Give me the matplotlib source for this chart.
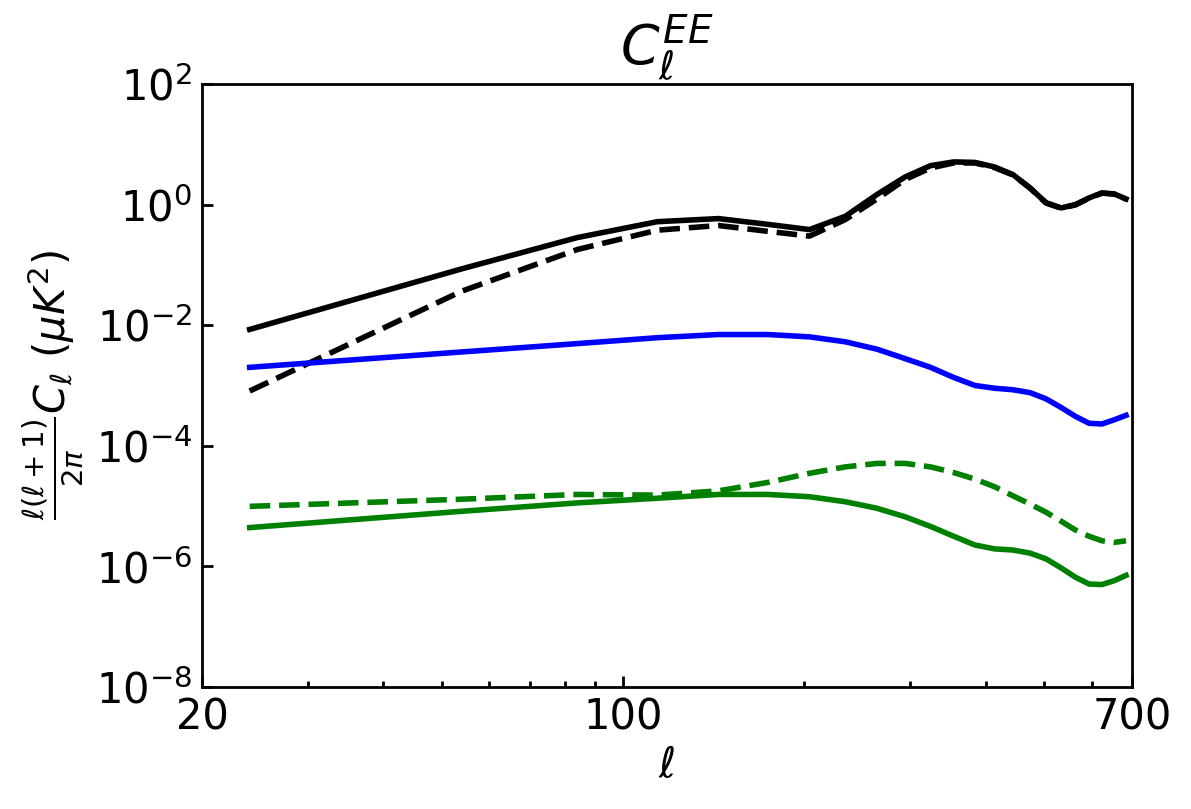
import numpy as np
import matplotlib
matplotlib.use("Agg")
import matplotlib.pyplot as plt
from matplotlib.ticker import FixedLocator, FixedFormatter, NullFormatter, NullLocator, LogLocator

# multipoles (bin centres)
ell = [24, 54, 84, 114, 144, 174, 204, 234, 264, 294, 324, 354,
       384, 414, 444, 474, 504, 534, 564, 594, 624, 654, 684]

# black: total signal, solid and dashed
cl_black = [8.5e-3, 8.6e-2, 0.284, 0.52, 0.586, 0.47, 0.385, 0.64, 1.47, 2.87, 4.42, 5.1,
            5.0, 4.2, 3.14, 1.89, 1.07, 0.88, 1.0, 1.29, 1.56, 1.5, 1.24]
cl_black_d = [8.1e-4, 3.67e-2, 0.18, 0.376, 0.45, 0.36, 0.30, 0.565, 1.24, 2.6, 4.05, 4.9,
              4.9, 4.1, 3.1, 1.87, 1.06, 0.87, 0.99, 1.28, 1.55, 1.49, 1.23]

# blue
cl_blue = [2.0e-3, 3.6e-3, 4.95e-3, 6.2e-3, 7.0e-3, 7.0e-3, 6.4e-3, 5.3e-3, 4.0e-3, 2.79e-3,
           2.0e-3, 1.36e-3, 1.0e-3, 9.0e-4, 8.5e-4, 7.6e-4, 6.0e-4, 4.3e-4, 3.07e-4, 2.36e-4,
           2.3e-4, 2.7e-4, 3.2e-4]

# green, solid and dashed
cl_green = [4.4e-6, 8.2e-6, 1.13e-5, 1.35e-5, 1.56e-5, 1.56e-5, 1.43e-5, 1.18e-5, 9.2e-6,
            6.65e-6, 4.6e-6, 3.16e-6, 2.26e-6, 1.95e-6, 1.87e-6, 1.66e-6, 1.33e-6, 9.4e-7,
            6.6e-7, 5.1e-7, 5.0e-7, 5.8e-7, 7.1e-7]
cl_green_d = [9.9e-6, 1.3e-5, 1.56e-5, 1.52e-5, 1.79e-5, 2.47e-5, 3.5e-5, 4.47e-5, 5.1e-5,
              5.1e-5, 4.47e-5, 3.6e-5, 2.8e-5, 2.09e-5, 1.48e-5, 1.08e-5, 7.9e-6, 5.6e-6,
              4.0e-6, 3.16e-6, 2.66e-6, 2.5e-6, 2.66e-6]

x_ticks = [20, 100, 700]
y_ticks = [1e-8, 1e-6, 1e-4, 1e-2, 1e0, 1e2]

FS = 15

fig = plt.figure(figsize=(5.955, 4.045), dpi=200)
ax = fig.add_axes([0.1696, 0.1508, 0.7809, 0.7454])

LW = 2.0
ax.plot(ell, cl_black, color='k', lw=LW)
ax.plot(ell, cl_black_d, color='k', lw=LW, ls='--')
ax.plot(ell, cl_blue, color='b', lw=LW)
ax.plot(ell, cl_green, color='g', lw=LW)
ax.plot(ell, cl_green_d, color='g', lw=LW, ls='--')

ax.set_xscale('log')
ax.set_yscale('log')
ax.set_xlim(20, 700)
ax.set_ylim(1e-8, 1e2)

ax.xaxis.set_major_locator(FixedLocator(x_ticks))
ax.xaxis.set_major_formatter(FixedFormatter([str(t) for t in x_ticks]))
ax.xaxis.set_minor_locator(LogLocator(base=10, subs=np.arange(2, 10)))
ax.xaxis.set_minor_formatter(NullFormatter())
ax.yaxis.set_major_locator(FixedLocator(y_ticks))
ax.yaxis.set_minor_locator(NullLocator())

ax.tick_params(which='both', direction='in', top=False, right=False, labelsize=FS)
ax.tick_params(which='major', length=4, width=1)
ax.tick_params(which='minor', length=2, width=1)
for s in ax.spines.values():
    s.set_linewidth(1)

ax.set_title(r'$C_\ell^{EE}$', fontsize=20, pad=6)
ax.set_xlabel(r'$\ell$', fontsize=FS, labelpad=2)
ax.set_ylabel(r'$\frac{\ell(\ell+1)}{2\pi}C_\ell\ (\mu K^2)$', fontsize=FS, labelpad=4)

fig.savefig('out.png', dpi=200)
